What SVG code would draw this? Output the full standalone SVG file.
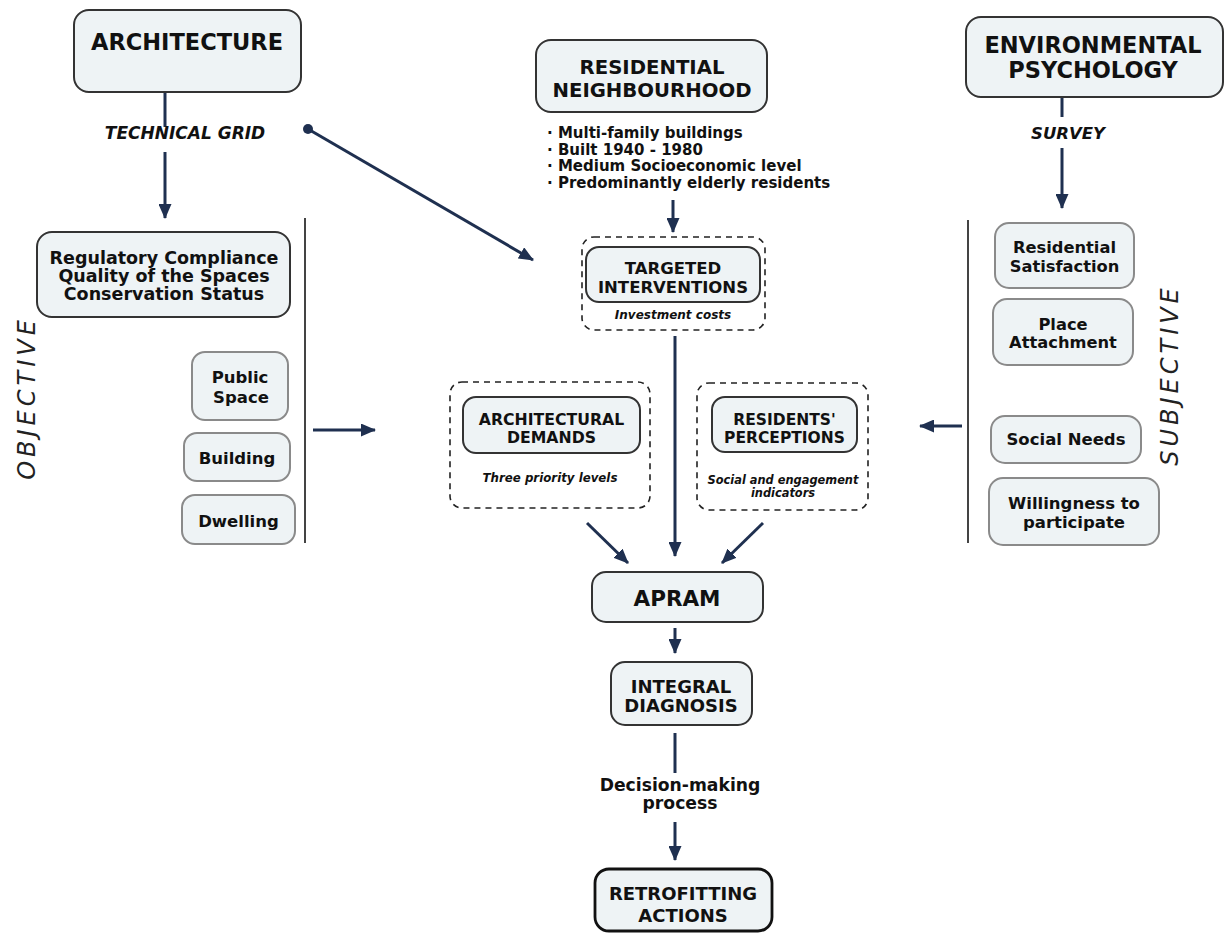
<svg xmlns="http://www.w3.org/2000/svg" width="1227" height="933" viewBox="0 0 1227 933">
<defs>
<marker id="ah" markerUnits="userSpaceOnUse" markerWidth="15" markerHeight="13" refX="14" refY="6.5" orient="auto">
<path d="M0,0 L15,6.5 L0,13 z" fill="#1f3050"/>
</marker>
<style>
text{font-family:"DejaVu Sans","Liberation Sans",sans-serif;font-weight:bold;fill:#111;text-anchor:middle}
.it{font-style:italic}
.main{fill:#eef3f5;stroke:#333;stroke-width:2}
.sub{fill:#eef3f5;stroke:#8a8a8a;stroke-width:2}
.dash{fill:none;stroke:#222;stroke-width:1.6;stroke-dasharray:6 5}
.ar{stroke:#1f3050;stroke-width:3;fill:none;marker-end:url(#ah)}
.ln{stroke:#1f3050;stroke-width:3;fill:none}
.dv{stroke:#444;stroke-width:2;fill:none}
.side{font-weight:normal;font-style:italic;fill:#222;letter-spacing:4px}
.bl{text-anchor:start}
</style>
</defs>
<rect width="1227" height="933" fill="#fff"/>

<g id="connectors">
<line class="ln" x1="165" y1="92" x2="165" y2="127"/>
<line class="ar" x1="165" y1="152" x2="165" y2="218"/>
<line class="ln" x1="1062" y1="97" x2="1062" y2="117"/>
<line class="ar" x1="1062" y1="148" x2="1062" y2="208"/>
<circle cx="308" cy="129" r="5" fill="#1f3050"/>
<line class="ar" x1="308" y1="129" x2="533" y2="260"/>
<line class="ar" x1="673" y1="200" x2="673" y2="232"/>
<line class="ar" x1="675" y1="336" x2="675" y2="556"/>
<line class="ar" x1="587" y1="523" x2="628" y2="563"/>
<line class="ar" x1="763" y1="523" x2="722" y2="563"/>
<line class="ar" x1="675" y1="628" x2="675" y2="653"/>
<line class="ln" x1="675" y1="733" x2="675" y2="773"/>
<line class="ar" x1="675" y1="822" x2="675" y2="860"/>
<line class="ar" x1="313" y1="430" x2="375" y2="430"/>
<line class="ar" x1="962" y1="426" x2="920" y2="426"/>
<line class="dv" x1="305" y1="218" x2="305" y2="543"/>
<line class="dv" x1="968" y1="220" x2="968" y2="543"/>
</g>

<g id="architecture">
<rect class="main" x="74" y="10" width="227" height="82" rx="15"/>
<text x="187" y="50" font-size="22.5">ARCHITECTURE</text>
</g>
<g id="technical-grid">
<text class="it" x="185" y="139" font-size="17">TECHNICAL GRID</text>
</g>

<g id="residential-neighbourhood">
<rect class="main" x="536" y="40" width="231" height="72" rx="15"/>
<text x="652" y="74" font-size="19.7">RESIDENTIAL</text>
<text x="652" y="97" font-size="19.7">NEIGHBOURHOOD</text>
</g>
<g id="neighbourhood-features">
<text class="bl" x="547" y="138" font-size="15">· Multi-family buildings</text>
<text class="bl" x="547" y="154.5" font-size="15">· Built 1940 - 1980</text>
<text class="bl" x="547" y="171" font-size="15">· Medium Socioeconomic level</text>
<text class="bl" x="547" y="187.5" font-size="15">· Predominantly elderly residents</text>
</g>

<g id="environmental-psychology">
<rect class="main" x="966" y="17" width="257" height="80" rx="15"/>
<text x="1093" y="53" font-size="22.5">ENVIRONMENTAL</text>
<text x="1093" y="78" font-size="22.5">PSYCHOLOGY</text>
</g>
<g id="survey">
<text class="it" x="1068" y="139" font-size="16.5">SURVEY</text>
</g>

<g id="regulatory">
<rect class="main" x="37" y="232" width="253" height="85" rx="15"/>
<text x="164" y="264" font-size="17.5">Regulatory Compliance</text>
<text x="164" y="282" font-size="17.5">Quality of the Spaces</text>
<text x="164" y="300" font-size="17.5">Conservation Status</text>
</g>
<g id="public-space">
<rect class="sub" x="192" y="352" width="96" height="68" rx="13"/>
<text x="240" y="383" font-size="16.5">Public</text>
<text x="241" y="403" font-size="16.5">Space</text>
</g>
<g id="building">
<rect class="sub" x="184" y="433" width="106" height="48" rx="13"/>
<text x="237" y="464" font-size="16.5">Building</text>
</g>
<g id="dwelling">
<rect class="sub" x="182" y="495" width="113" height="49" rx="13"/>
<text x="238.5" y="527" font-size="16.5">Dwelling</text>
</g>
<g id="objective">
<text class="side" transform="translate(35,398) rotate(-90)" font-size="24">OBJECTIVE</text>
</g>

<g id="residential-satisfaction">
<rect class="sub" x="995" y="223" width="139" height="65" rx="14"/>
<text x="1064.5" y="253" font-size="16.3">Residential</text>
<text x="1064.5" y="272" font-size="16.3">Satisfaction</text>
</g>
<g id="place-attachment">
<rect class="sub" x="993" y="299" width="140" height="66" rx="14"/>
<text x="1063" y="330" font-size="16.3">Place</text>
<text x="1063" y="348" font-size="16.3">Attachment</text>
</g>
<g id="social-needs">
<rect class="sub" x="991" y="416" width="150" height="47" rx="14"/>
<text x="1066" y="445" font-size="16.5">Social Needs</text>
</g>
<g id="willingness">
<rect class="sub" x="989" y="478" width="170" height="67" rx="14"/>
<text x="1074" y="509" font-size="16.5">Willingness to</text>
<text x="1074" y="528" font-size="16.5">participate</text>
</g>
<g id="subjective">
<text class="side" transform="translate(1178,375) rotate(-90)" font-size="24">SUBJECTIVE</text>
</g>

<g id="targeted-interventions">
<rect class="dash" x="582" y="237" width="183" height="93" rx="12"/>
<rect class="main" x="586" y="247" width="174" height="55" rx="13"/>
<text x="673" y="274" font-size="16.5">TARGETED</text>
<text x="673" y="293" font-size="16.5">INTERVENTIONS</text>
<text class="it" x="673" y="319" font-size="12">Investment costs</text>
</g>

<g id="architectural-demands">
<rect class="dash" x="450" y="382" width="200" height="126" rx="12"/>
<rect class="main" x="463" y="397" width="177" height="56" rx="13"/>
<text x="551.5" y="425" font-size="15.7">ARCHITECTURAL</text>
<text x="551.5" y="443" font-size="15.7">DEMANDS</text>
<text class="it" x="550" y="482" font-size="11.8">Three priority levels</text>
</g>

<g id="residents-perceptions">
<rect class="dash" x="697" y="383" width="171" height="127" rx="12"/>
<rect class="main" x="712" y="397" width="145" height="55" rx="13"/>
<text x="784.5" y="425" font-size="15.5">RESIDENTS'</text>
<text x="784.5" y="443" font-size="15.5">PERCEPTIONS</text>
<text class="it" x="783" y="484" font-size="11.4">Social and engagement</text>
<text class="it" x="783" y="497" font-size="11.4">indicators</text>
</g>

<g id="apram">
<rect class="main" x="592" y="572" width="171" height="50" rx="14"/>
<text x="677" y="606" font-size="21.5">APRAM</text>
</g>

<g id="integral-diagnosis">
<rect class="main" x="611" y="662" width="141" height="63" rx="14"/>
<text x="681" y="692.5" font-size="18">INTEGRAL</text>
<text x="681" y="711.5" font-size="18">DIAGNOSIS</text>
</g>

<g id="decision-making">
<text x="680" y="791" font-size="17.2">Decision-making</text>
<text x="680" y="809" font-size="17.2">process</text>
</g>

<g id="retrofitting-actions">
<rect class="main" x="595" y="869" width="177" height="62" rx="14" style="stroke:#111;stroke-width:2.8"/>
<text x="683" y="900" font-size="18">RETROFITTING</text>
<text x="683" y="922" font-size="18">ACTIONS</text>
</g>
</svg>
